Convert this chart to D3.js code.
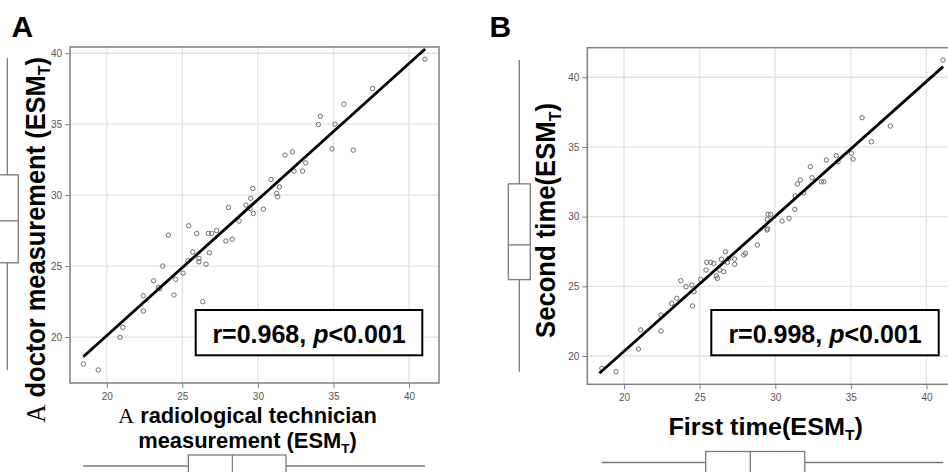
<!DOCTYPE html>
<html><head><meta charset="utf-8">
<script src="https://cdn.jsdelivr.net/npm/d3@7"></script>
<style>body{margin:0;background:#fff;overflow:hidden}svg{display:block}</style>
</head><body>
<svg id="chart" width="948" height="472"></svg>
<script>
// ---------- data ----------
const xTicks = [20, 25, 30, 35, 40];
const yTicks = [20, 25, 30, 35, 40];

// Panel A: radiological technician (x) vs doctor (y)
const aX = [18.45,19.44,20.88,21.06,22.42,22.42,23.1,23.41,23.5,23.7,24.08,24.45,24.56,25.05,25.36,25.42,25.69,25.95,26.1,26.1,26.35,26.57,26.79,26.72,26.94,27.27,27.88,28.05,28.3,28.76,29.21,29.48,29.52,29.66,29.7,30.36,30.87,31.24,31.31,31.42,31.79,32.28,32.39,32.96,33.16,34.0,34.13,34.9,35.1,35.69,36.31,37.59,41.05];
const aY = [18.1,17.68,19.98,20.68,21.83,22.91,23.96,23.5,23.4,25.0,27.18,22.96,24.06,24.5,25.37,27.84,26.0,27.3,25.54,25.3,22.49,25.14,25.94,27.3,27.3,27.5,26.77,29.13,26.9,28.17,29.3,29.06,29.77,30.47,28.71,29.01,31.1,30.12,29.88,30.58,32.82,33.05,31.69,31.69,32.27,34.98,35.56,33.26,35.0,36.41,33.17,37.51,39.58];
const lineA = [[18.45, 18.61], [41.06, 40.3]];
const boxAx = [18.45, 25.4, 28.31, 31.86, 41.05];   // min, q1, median, q3, max
const boxAy = [17.68, 25.23, 28.19, 31.43, 39.67];
const statA = ["r=0.968, ", "p", "<0.001"];

// Panel B: first time (x) vs second time (y)
const bX = [18.53,19.47,20.95,21.1,22.45,22.45,23.15,23.49,23.75,24.1,24.48,24.52,24.63,25.07,25.42,25.47,25.73,25.93,26.1,26.17,26.33,26.44,26.59,26.7,26.83,26.92,27.32,27.32,27.92,28.03,28.82,29.46,29.48,29.48,29.52,29.7,30.45,30.91,31.29,31.33,31.46,31.66,31.88,32.32,32.43,33.05,33.21,33.38,34.04,34.15,35.03,35.15,35.74,36.36,37.61,41.1];
const bY = [19.12,18.87,20.5,21.87,21.8,22.94,23.78,24.14,25.4,24.97,25.09,23.59,24.61,25.5,26.17,26.72,26.72,26.65,25.74,25.57,26.17,26.94,26.05,27.48,26.72,27.0,26.96,26.58,27.25,27.37,27.96,29.04,29.13,29.8,30.17,30.17,29.68,29.88,30.52,31.48,32.34,32.63,31.71,33.58,32.79,32.5,32.5,34.06,34.37,33.94,34.54,34.13,37.1,35.37,36.5,41.23];
const lineB = [[18.37, 18.76], [41.1, 40.76]];
const boxBx = [18.53, 25.4, 28.35, 31.95, 41.1];
const boxBy = [18.87, 25.48, 27.97, 32.35, 41.24];
const statB = ["r=0.998, ", "p", "<0.001"];

// ---------- drawing ----------
const svg = d3.select("#chart");
const SANS = "'Liberation Sans', Arial, Helvetica, sans-serif";
const SERIF = "'Liberation Serif', 'Times New Roman', serif";
const GRID = "#e2e2e2", FRAME = "#808080", TICKC = "#555";

function panel(cfg) {
  const x = d3.scaleLinear().domain(cfg.xDomain).range([cfg.left, cfg.right]);
  const y = d3.scaleLinear().domain(cfg.yDomain).range([cfg.bottom, cfg.top]);
  const g = svg.append("g");

  // grid
  g.append("g").selectAll("line").data(xTicks).join("line")
    .attr("x1", d => x(d)).attr("x2", d => x(d))
    .attr("y1", cfg.top).attr("y2", cfg.bottom)
    .attr("stroke", GRID).attr("stroke-width", 1.3);
  g.append("g").selectAll("line").data(yTicks).join("line")
    .attr("y1", d => y(d)).attr("y2", d => y(d))
    .attr("x1", cfg.left).attr("x2", cfg.right)
    .attr("stroke", GRID).attr("stroke-width", 1.3);

  // axes (ticks + labels)
  const xAxis = d3.axisBottom(x).tickValues(xTicks).tickSize(5).tickPadding(5).tickFormat(d3.format("d"));
  const yAxis = d3.axisLeft(y).tickValues(yTicks).tickSize(5).tickPadding(3).tickFormat(d3.format("d"));
  const gx = g.append("g").attr("transform", `translate(0,${cfg.bottom})`).call(xAxis);
  const gy = g.append("g").attr("transform", `translate(${cfg.left},0)`).call(yAxis);
  [gx, gy].forEach(a => {
    a.select(".domain").remove();
    a.selectAll(".tick line").attr("stroke", FRAME).attr("stroke-width", 1);
    a.selectAll(".tick text").attr("fill", TICKC).style("font-family", SANS).style("font-size", "10px");
  });

  // frame
  g.append("rect").attr("x", cfg.left).attr("y", cfg.top)
    .attr("width", cfg.right - cfg.left).attr("height", cfg.bottom - cfg.top)
    .attr("fill", "none").attr("stroke", FRAME).attr("stroke-width", 1.5);

  // points
  g.append("g").selectAll("circle").data(cfg.xs.map((v, i) => [v, cfg.ys[i]])).join("circle")
    .attr("cx", d => x(d[0])).attr("cy", d => y(d[1])).attr("r", 2.2)
    .attr("fill", "none").attr("stroke", "#6e6e6e").attr("stroke-width", 1);

  // regression line
  g.append("path").datum(cfg.line)
    .attr("d", d3.line().x(d => x(d[0])).y(d => y(d[1])))
    .attr("stroke", "#000").attr("stroke-width", 2.8).attr("fill", "none");

  // stats box
  const sb = cfg.statBox;
  g.append("rect").attr("x", sb.x0).attr("y", sb.y0).attr("width", sb.x1 - sb.x0).attr("height", sb.y1 - sb.y0)
    .attr("fill", "#fff").attr("stroke", "#000").attr("stroke-width", 2);
  const st = g.append("text").attr("x", (sb.x0 + sb.x1) / 2).attr("y", sb.base)
    .attr("text-anchor", "middle").style("font-family", SANS).style("font-size", "25px").style("font-weight", "bold");
  st.append("tspan").text(cfg.stat[0]);
  st.append("tspan").style("font-style", "italic").text(cfg.stat[1]);
  st.append("tspan").text(cfg.stat[2]);

  // marginal box plots
  const bs = "#7a7a7a";
  const vb = cfg.vBox, vx = cfg.vBoxX, hw = 11;
  g.append("line").attr("x1", vx).attr("x2", vx).attr("y1", y(vb[4])).attr("y2", y(vb[0])).attr("stroke", bs).attr("stroke-width", 1.3);
  g.append("rect").attr("x", vx - hw).attr("width", 2 * hw).attr("y", y(vb[3])).attr("height", y(vb[1]) - y(vb[3]))
    .attr("fill", "#fff").attr("stroke", bs).attr("stroke-width", 1.3);
  g.append("line").attr("x1", vx - hw).attr("x2", vx + hw).attr("y1", y(vb[2])).attr("y2", y(vb[2])).attr("stroke", bs).attr("stroke-width", 1.3);
  const hb = cfg.hBox, hy = cfg.hBoxY;
  g.append("line").attr("y1", hy).attr("y2", hy).attr("x1", x(hb[0])).attr("x2", x(hb[4])).attr("stroke", bs).attr("stroke-width", 1.3);
  g.append("rect").attr("y", hy - hw).attr("height", 2 * hw).attr("x", x(hb[1])).attr("width", x(hb[3]) - x(hb[1]))
    .attr("fill", "#fff").attr("stroke", bs).attr("stroke-width", 1.3);
  g.append("line").attr("y1", hy - hw).attr("y2", hy + hw).attr("x1", x(hb[2])).attr("x2", x(hb[2])).attr("stroke", bs).attr("stroke-width", 1.3);

  // panel letter
  svg.append("text").attr("x", cfg.letterX).attr("y", 37).text(cfg.letter)
    .style("font-family", SANS).style("font-size", "30px").style("font-weight", "bold");
}

// title text with optional serif / subscript parts, fitted to a target width via horizontal scale
function title(parts, cx, cy, rotate, size, targetW) {
  const outer = svg.append("g").attr("transform", `translate(${cx},${cy})${rotate ? " rotate(-90)" : ""}`);
  const inner = outer.append("g");
  const t = inner.append("text").attr("text-anchor", "middle")
    .style("font-family", SANS).style("font-size", size + "px").style("font-weight", "bold");
  parts.forEach(p => {
    const ts = t.append("tspan").text(p.t);
    if (p.serif) ts.style("font-family", SERIF).style("font-weight", "normal");
    if (p.sub) ts.style("font-size", (size * 0.62) + "px").attr("dy", size * 0.22);
    if (p.unsub) ts.attr("dy", -size * 0.22);
  });
  const w = t.node().getComputedTextLength();
  inner.attr("transform", `scale(${targetW / w},1)`);
}
const esm = () => [{t: "(ESM"}, {t: "T", sub: true}, {t: ")", unsub: true}];

panel({
  left: 70, right: 439, top: 47, bottom: 383,
  xDomain: [17.57, 41.98], yDomain: [16.76, 40.44],
  xs: aX, ys: aY, line: lineA, stat: statA,
  statBox: {x0: 195.7, x1: 422.3, y0: 310, y1: 355.3, base: 343},
  vBox: boxAy, vBoxX: 7.3, hBox: boxAx, hBoxY: 466,
  letter: "A", letterX: 11.5
});
panel({
  left: 587.3, right: 956.4, top: 47.7, bottom: 384.3,
  xDomain: [17.57, 41.98], yDomain: [17.97, 42.12],
  xs: bX, ys: bY, line: lineB, stat: statB,
  statBox: {x0: 711.3, x1: 938.7, y0: 310, y1: 355.3, base: 343},
  vBox: boxBy, vBoxX: 519.3, hBox: boxBx, hBoxY: 462.5,
  letter: "B", letterX: 489.5
});

// axis titles
title([{t: "A", serif: true}, {t: " doctor measurement "}, ...esm()], 44.5, 240, true, 27, 366);
title([{t: "A", serif: true}, {t: " radiological technician"}], 247.5, 422.5, false, 22, 258.7);
title([{t: "measurement "}, ...esm()], 247.5, 448, false, 22, 218.7);
title([{t: "Second time"}, ...esm()], 555, 220.5, true, 28, 235);
title([{t: "First time"}, ...esm()], 765.7, 435, false, 24, 194.7);
</script>
</body></html>
